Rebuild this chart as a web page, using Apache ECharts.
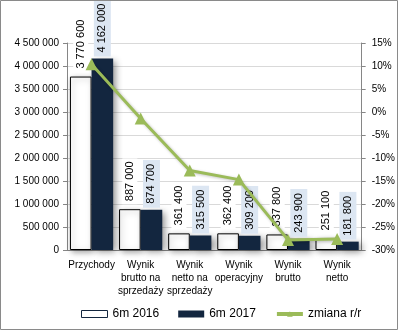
<!DOCTYPE html>
<html>
<head>
<meta charset="utf-8">
<script src="https://cdn.jsdelivr.net/npm/echarts@6/dist/echarts.min.js"></script>
<style>
html,body{margin:0;padding:0;background:#fff;}
#chart{width:398px;height:330px;}
</style>
</head>
<body>
<div id="chart"></div>
<script>
const categories = ['Przychody', 'Wynik\nbrutto na\nsprzedaży', 'Wynik\nnetto na\nsprzedaży', 'Wynik\noperacyjny', 'Wynik\nbrutto', 'Wynik\nnetto'];
const values2016 = [3770600, 887000, 361400, 362400, 337800, 251100];
const values2017 = [4162000, 874700, 315500, 309200, 243900, 181800];
const changePct = [10.4, -1.4, -12.7, -14.7, -27.8, -27.6];
const seriesNames = ['6m 2016', '6m 2017', 'zmiana r/r'];

const fmt = v => String(v).replace(/\B(?=(\d{3})+(?!\d))/g, ' ');
const FONT = 'Liberation Sans';

const chart = echarts.init(document.getElementById('chart'), null, {renderer: 'canvas'});
chart.setOption({
  animation: false,
  textStyle: {fontFamily: FONT, color: '#000'},
  graphic: [{
    type: 'rect', silent: true, z: 100,
    shape: {x: 0.5, y: 0.5, width: 397, height: 329},
    style: {fill: null, stroke: '#8a8a8a', lineWidth: 1}
  }],
  grid: {left: 67, right: 36, top: 43, bottom: 80},
  legend: {
    top: 303, left: 76,
    itemWidth: 26, itemHeight: 7, itemGap: 19,
    textStyle: {fontFamily: FONT, fontSize: 12, color: '#000'},
    data: [
      {name: seriesNames[0], icon: 'rect', itemStyle: {borderWidth: 1, borderColor: '#13263f', shadowBlur: 0, shadowOffsetX: 0, shadowOffsetY: 0}},
      {name: seriesNames[1], icon: 'rect', itemStyle: {shadowBlur: 0, shadowOffsetX: 0, shadowOffsetY: 0}},
      {name: seriesNames[2], lineStyle: {width: 4}}
    ]
  },
  xAxis: {
    type: 'category',
    data: categories,
    axisLine: {lineStyle: {color: '#868686'}},
    axisTick: {show: false},
    axisLabel: {fontFamily: FONT, fontSize: 10, color: '#000', lineHeight: 13, margin: 9, interval: 0}
  },
  yAxis: [{
    type: 'value', min: 0, max: 4500000, interval: 500000,
    axisLine: {show: true, lineStyle: {color: '#868686'}},
    axisTick: {show: true, length: 4, lineStyle: {color: '#868686'}},
    splitLine: {lineStyle: {color: '#d9d9d9'}},
    axisLabel: {fontFamily: FONT, fontSize: 10, color: '#000', margin: 8, formatter: v => fmt(v)}
  }, {
    type: 'value', min: -30, max: 15, interval: 5,
    position: 'right',
    axisLine: {show: true, lineStyle: {color: '#868686'}},
    axisTick: {show: true, length: 4, lineStyle: {color: '#868686'}},
    splitLine: {show: false},
    axisLabel: {fontFamily: FONT, fontSize: 10, color: '#000', margin: 10, formatter: '{value}%'}
  }],
  series: [{
    name: seriesNames[0], type: 'bar', data: values2016,
    barGap: '0%', barCategoryGap: '12%',
    itemStyle: {color: '#ffffff', borderColor: '#000', borderWidth: 1,
      shadowBlur: 6, shadowOffsetX: 2, shadowOffsetY: 2, shadowColor: 'rgba(0,0,0,0.35)'},
    label: {show: true, position: 'top', rotate: 90, align: 'left', verticalAlign: 'middle',
      distance: 5, fontFamily: FONT, fontSize: 11, color: '#000',
      backgroundColor: '#fff', padding: [2, 3], formatter: p => fmt(p.value)}
  }, {
    name: seriesNames[1], type: 'bar', data: values2017,
    itemStyle: {color: '#13263f',
      shadowBlur: 7, shadowOffsetX: 3, shadowOffsetY: 2, shadowColor: 'rgba(0,0,0,0.45)'},
    label: {show: true, position: 'top', rotate: 90, align: 'left', verticalAlign: 'middle',
      distance: 2, fontFamily: FONT, fontSize: 11, color: '#000',
      backgroundColor: '#dce6f2', padding: [3, 4], formatter: p => fmt(p.value)}
  }, {
    name: seriesNames[2], type: 'line', yAxisIndex: 1, data: changePct,
    symbol: 'triangle', symbolSize: 12, z: 5,
    lineStyle: {color: '#9bbb59', width: 3, shadowBlur: 3, shadowOffsetX: 1, shadowOffsetY: 1, shadowColor: 'rgba(0,0,0,0.25)'},
    itemStyle: {color: '#9bbb59'}
  }]
});
</script>
</body>
</html>
